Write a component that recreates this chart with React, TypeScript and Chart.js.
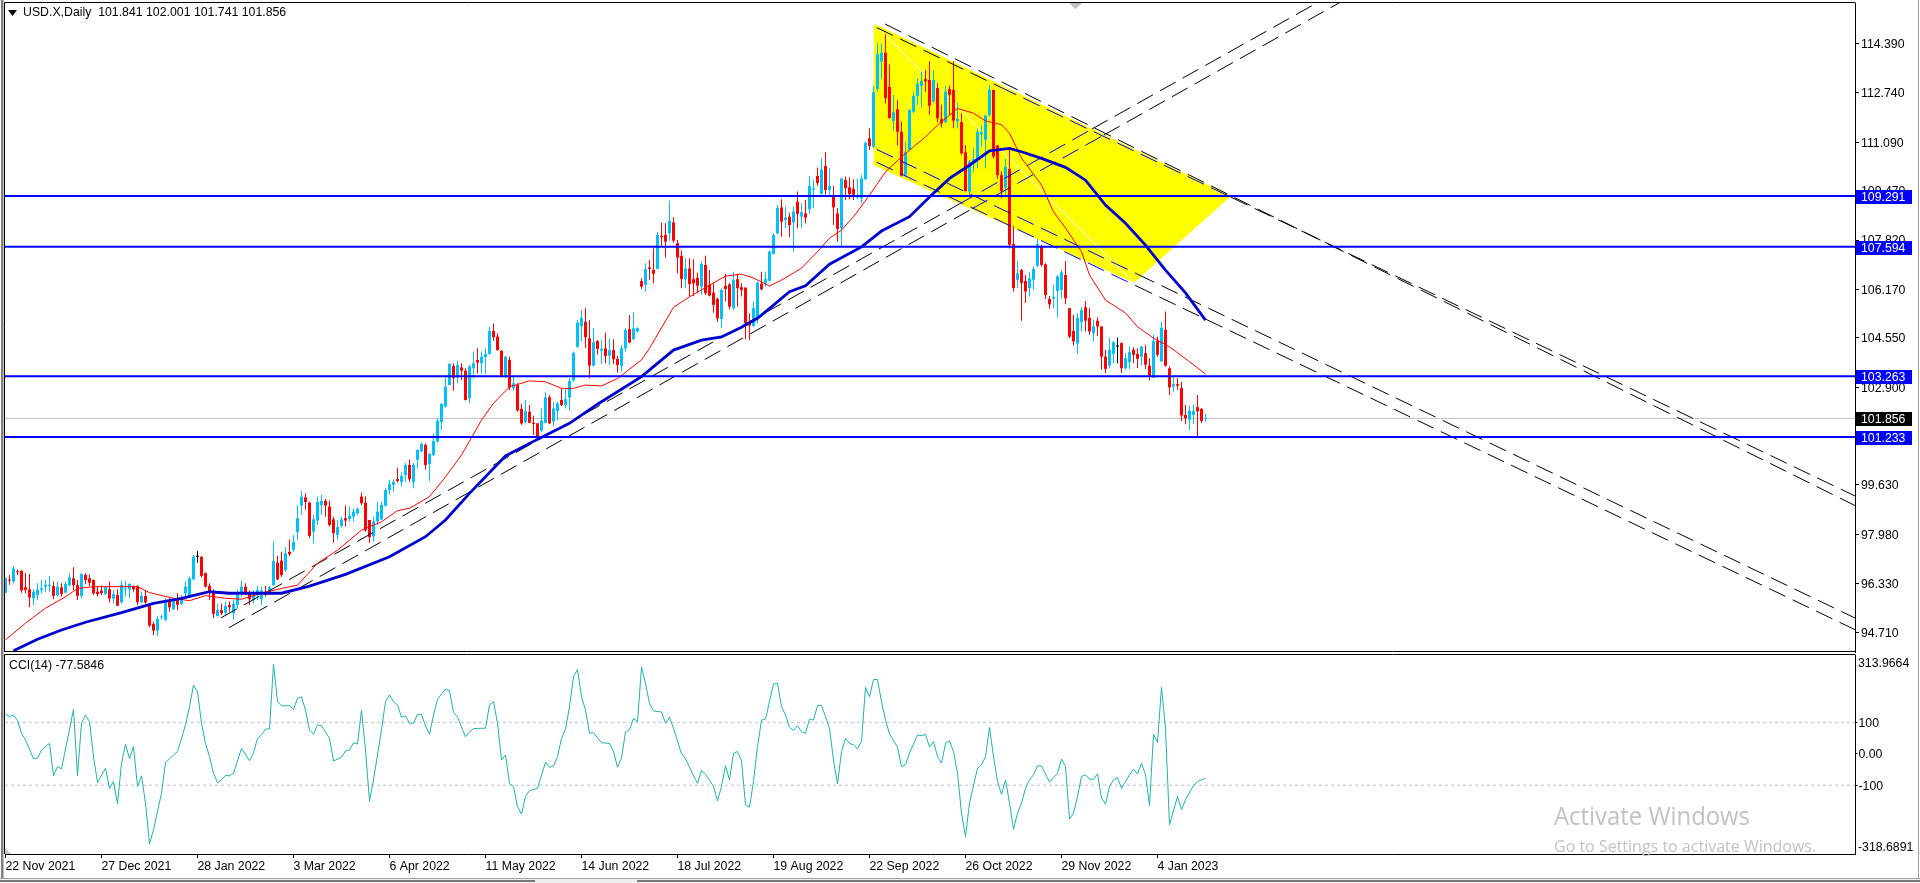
import React, { useEffect, useRef } from "react";
import { Chart, registerables } from "chart.js";

Chart.register(...registerables);

const FONT = '"Liberation Sans", Arial, sans-serif';

const opens = [
96.03,96.45,96.40,96.73,96.76,96.21,96.14,95.84,95.95,96.12,
96.23,96.25,96.25,95.94,96.21,96.03,96.28,96.51,96.28,95.92,
96.62,96.51,96.45,96.06,96.10,95.98,96.14,95.83,95.95,95.71,
96.14,96.14,96.25,96.25,95.71,95.92,95.59,94.98,94.76,95.20,
95.12,95.73,95.47,95.82,95.65,96.00,95.90,96.47,97.23,97.23,
96.68,96.26,96.06,95.25,95.45,95.36,95.62,95.34,95.62,96.03,
96.23,96.01,95.78,95.95,95.81,96.06,95.98,96.28,97.03,97.10,
96.79,97.39,97.46,98.05,98.94,99.22,99.04,98.07,98.44,98.96,
99.10,98.91,98.48,97.96,98.26,98.52,98.49,98.57,98.68,99.24,
99.04,98.46,97.91,98.41,98.48,98.93,99.46,99.63,99.83,99.73,
99.96,100.30,99.72,100.47,100.75,100.97,100.33,100.63,101.08,101.73,
102.25,102.97,103.61,103.22,103.56,103.45,102.53,103.53,103.81,103.70,
103.90,104.01,104.78,104.59,104.11,103.23,103.81,102.86,102.97,102.17,
101.73,102.08,101.71,101.69,101.44,101.71,102.56,101.75,102.10,102.47,
102.30,102.55,103.12,104.25,104.94,105.09,104.53,103.62,104.44,104.12,
104.20,103.95,104.14,103.84,103.61,104.20,104.84,104.51,104.76,106.45,
106.32,106.90,106.82,106.85,107.96,107.99,108.04,108.41,107.71,107.29,
106.50,106.87,106.51,106.56,106.26,106.99,106.32,106.06,105.85,105.18,
106.28,106.34,105.54,106.51,106.24,106.23,105.09,104.95,105.20,106.36,
106.37,106.46,107.35,108.04,108.91,108.49,108.60,108.40,109.10,108.60,
108.71,108.85,109.50,109.96,109.36,110.29,109.49,109.29,108.71,108.21,
109.83,109.58,109.53,109.24,109.21,109.85,111.22,110.94,112.87,113.78,
114.08,112.94,111.80,112.19,111.44,109.99,110.83,112.11,112.64,112.98,
113.20,113.17,112.45,112.90,111.87,111.76,112.87,112.84,111.78,111.76,
110.75,109.44,110.39,110.55,111.36,111.17,112.00,112.84,110.98,109.99,
109.57,110.20,107.68,106.49,106.82,106.45,106.21,106.49,106.96,107.60,
107.01,105.85,105.86,106.12,106.15,106.65,105.54,104.78,104.36,105.07,
105.57,105.21,104.70,105.12,104.93,103.92,103.62,104.01,104.26,104.37,
103.53,103.73,104.15,104.01,103.92,104.04,103.62,103.22,104.45,103.76,
104.82,103.53,102.92,103.00,102.87,101.97,101.81,101.97,102.23,102.17,101.841];

const closes = [
96.51,96.43,96.84,96.71,96.10,96.12,95.87,96.06,96.12,96.17,
96.29,96.29,95.92,96.23,95.98,96.32,96.54,96.28,95.92,96.65,
96.45,96.36,96.01,95.98,96.01,96.21,95.83,95.98,95.59,96.29,
96.17,96.32,96.14,95.71,95.93,95.70,94.93,94.76,95.15,95.22,
95.78,95.54,95.78,95.62,95.82,96.23,96.51,97.23,97.23,96.59,
96.23,96.06,95.32,95.45,95.34,95.58,95.54,95.65,95.95,96.23,
96.03,95.81,95.95,96.12,96.10,95.95,96.21,97.09,96.47,96.62,
97.35,97.31,97.72,98.52,99.24,99.06,97.93,98.48,99.06,99.10,
98.94,98.29,98.02,98.22,98.48,98.44,98.60,98.74,98.83,99.02,
98.11,97.88,98.41,98.74,98.96,99.46,99.66,99.74,99.76,99.93,
100.30,99.82,100.30,100.80,101.00,100.30,100.67,101.10,101.78,102.34,
102.92,103.68,103.20,103.64,103.45,102.47,103.59,103.70,103.72,103.92,
104.01,104.78,104.57,104.14,103.27,103.92,102.89,103.03,102.12,101.69,
102.10,101.71,101.67,101.25,101.78,102.56,101.69,102.19,102.36,102.30,
102.50,103.11,104.05,105.06,105.22,104.57,103.62,104.40,104.18,104.18,
103.94,104.14,103.83,103.64,104.20,104.81,104.39,104.87,104.87,106.26,
106.85,106.85,106.69,107.99,107.91,107.77,108.46,107.80,107.23,106.52,
106.87,106.35,106.37,106.29,107.02,106.04,105.96,105.65,105.20,106.15,
106.18,105.59,106.48,106.21,106.15,105.04,104.96,105.54,106.40,106.17,
106.52,107.43,107.99,108.90,108.43,108.57,108.32,108.77,108.69,108.75,
108.57,109.63,109.55,109.72,110.18,109.49,109.63,108.91,108.19,109.88,
109.55,109.36,109.33,109.29,109.88,111.07,110.96,112.76,114.03,114.08,
112.56,111.89,112.09,111.44,109.97,110.77,112.17,112.64,113.04,113.14,
113.12,112.31,113.17,111.89,111.72,112.78,112.67,111.81,111.87,110.72,
109.46,110.44,110.53,111.44,111.42,111.98,112.84,110.61,109.99,109.46,
110.27,107.66,106.21,106.71,106.38,106.10,106.54,106.85,107.68,106.99,
105.98,105.67,105.92,106.60,106.74,105.87,104.59,104.43,105.21,105.48,
105.12,104.76,104.93,104.93,103.92,103.51,104.15,104.40,104.26,103.53,
103.87,104.07,103.98,103.85,104.26,103.65,103.26,104.45,103.98,104.89,
103.62,102.89,103.00,102.95,101.95,101.86,102.11,102.11,102.09,101.77,101.856];

const highs = [
96.54,96.62,96.93,96.81,96.79,96.68,96.65,96.14,96.34,96.45,
96.45,96.59,96.40,96.40,96.34,96.40,96.68,96.88,96.45,96.68,
96.68,96.64,96.47,96.23,96.28,96.25,96.40,96.12,96.14,96.43,
96.43,96.34,96.28,96.28,96.06,96.12,95.62,95.06,95.26,95.28,
95.84,95.84,95.84,96.01,95.95,96.40,96.56,97.29,97.42,97.25,
96.70,96.34,96.14,95.67,95.67,95.73,95.73,95.78,96.12,96.43,
96.34,96.10,96.12,96.25,96.23,96.25,96.25,97.74,97.26,97.40,
97.55,97.81,97.96,98.94,99.43,99.35,99.07,98.63,99.24,99.30,
99.16,99.10,98.57,98.46,98.57,98.94,98.91,98.85,98.88,99.37,
99.24,98.46,98.57,99.07,99.07,99.52,99.80,99.82,100.21,100.05,
100.36,100.47,100.36,100.82,101.05,101.02,100.69,101.34,101.85,102.36,
103.25,103.70,103.70,103.79,103.70,103.53,103.64,104.09,104.20,104.09,
104.20,104.92,105.03,104.70,104.14,103.94,103.92,103.27,103.03,102.34,
102.47,102.30,101.94,101.69,102.19,102.73,102.64,102.41,102.41,102.86,
102.86,103.20,104.09,105.15,105.48,105.54,105.15,104.87,104.48,104.48,
104.72,104.53,104.50,103.94,104.31,104.87,105.31,105.40,104.90,106.54,
107.04,107.15,107.54,108.10,108.40,108.38,109.13,108.58,107.82,107.47,
107.21,107.21,107.18,106.73,107.10,107.29,106.82,106.37,105.89,106.21,
106.69,106.37,106.76,106.69,106.37,106.23,105.37,105.76,106.43,106.76,
106.76,107.47,108.04,108.99,109.18,108.94,108.73,108.94,109.44,109.05,
109.16,109.96,109.83,110.24,110.55,110.75,110.22,109.63,108.88,109.88,
109.94,109.92,109.85,109.88,109.99,111.11,111.55,112.98,114.40,114.40,
114.70,113.69,112.67,112.50,111.78,111.11,112.19,112.76,113.23,113.45,
113.50,113.80,113.50,113.06,112.34,112.98,112.98,113.80,112.42,112.06,
111.00,110.50,110.89,111.53,111.64,112.00,113.00,112.84,111.00,110.11,
110.53,110.89,108.30,107.12,106.85,106.65,106.74,106.93,107.86,107.66,
107.04,105.95,106.32,106.65,106.82,107.12,105.54,105.32,105.37,105.59,
105.78,105.54,105.15,105.23,104.93,104.15,104.56,104.45,104.56,104.40,
104.04,104.26,104.23,104.20,104.28,104.32,103.87,104.65,104.59,105.09,
105.43,103.59,103.26,103.20,103.07,102.30,102.29,102.31,102.64,102.20,102.001];

const lows = [
96.01,96.29,96.34,96.62,96.03,96.01,95.54,95.62,95.78,96.01,
96.06,96.06,95.81,95.90,95.90,96.01,96.23,96.12,95.78,95.84,
96.31,96.25,95.95,95.90,95.95,95.95,95.70,95.67,95.58,95.67,
95.90,95.84,96.06,95.62,95.67,95.67,94.87,94.61,94.58,95.12,
95.09,95.39,95.45,95.45,95.62,95.90,95.85,96.45,97.03,96.54,
96.20,95.78,95.17,95.23,95.28,95.28,95.39,95.12,95.50,95.90,
95.95,95.62,95.67,95.78,95.62,95.90,95.95,96.26,96.45,96.56,
96.72,97.25,97.40,97.79,98.63,98.80,97.85,97.68,98.29,98.63,
98.57,98.24,97.70,97.81,98.21,98.24,98.41,98.41,98.63,98.96,
98.07,97.70,97.74,98.29,98.46,98.91,99.30,99.41,99.71,99.58,
99.74,99.74,99.52,100.19,100.73,100.15,99.76,100.60,101.05,101.47,
102.22,102.96,102.78,103.03,103.14,102.45,102.36,103.20,103.36,103.36,
103.34,103.98,104.45,104.12,103.22,103.20,102.80,102.78,102.08,101.64,
101.69,101.69,101.30,101.22,101.41,101.69,101.67,101.60,101.80,102.27,
102.19,102.11,103.08,104.22,104.42,104.20,103.20,103.59,103.98,103.67,
103.70,103.64,103.67,103.39,103.42,104.09,104.37,104.48,104.73,106.18,
106.10,106.49,106.37,106.84,107.62,107.23,107.80,107.73,106.71,106.21,
106.21,105.93,105.95,106.04,105.99,105.98,105.93,105.39,105.09,104.89,
105.76,105.50,105.48,105.59,105.93,104.50,104.48,104.90,105.04,106.14,
106.26,106.45,107.34,108.01,107.93,108.21,107.91,107.43,108.21,108.21,
108.38,108.69,108.88,109.63,109.34,109.33,109.27,108.32,107.77,107.62,
109.16,109.18,109.16,109.18,109.05,109.83,110.83,110.89,112.78,113.20,
112.38,111.89,111.47,110.98,109.94,109.94,110.80,112.06,112.34,112.25,
112.78,112.00,112.42,111.76,111.58,111.72,112.00,111.56,111.56,110.66,
109.44,109.30,110.11,110.22,110.94,110.22,111.94,110.55,109.86,109.22,
109.33,107.54,106.10,106.21,105.12,105.71,105.93,106.15,106.91,106.93,
105.85,105.52,105.54,105.23,105.87,105.67,104.54,104.29,104.00,104.76,
104.76,104.65,104.43,104.62,103.48,103.37,103.53,103.70,103.70,103.37,
103.48,103.51,103.70,103.54,103.62,103.51,103.12,103.20,103.92,103.74,
103.59,102.64,102.75,102.81,101.77,101.66,101.47,101.66,101.25,101.70,101.741];

const slowMaBars = [2,8,14,20,29,37,44,51,56,69,76,85,96,105,110,116,125,131,141,148,159,167,174,179,184,188,192,196,200,206,214,219,226,231,236,241,246,251,254,259,265,270,273,275,280,285,290,295,300];
const slowMaValues = [94.09,94.47,94.78,95.04,95.36,95.67,95.84,96.06,96.01,96.01,96.25,96.64,97.23,97.90,98.46,99.35,100.60,101.02,101.69,102.33,103.25,104.14,104.47,104.58,104.90,105.20,105.64,106.09,106.29,107.01,107.59,108.12,108.60,109.26,109.88,110.32,110.80,110.88,110.77,110.55,110.25,109.82,109.32,108.99,108.38,107.65,106.81,106.05,105.14];

const fastMaBars = [0,5,10,15,18,22,26,33,36,42,46,50,55,59,64,69,73,78,83,89,94,98,101,106,110,114,119,122,126,131,135,139,142,145,149,153,159,161,167,171,176,180,184,187,191,194,199,203,206,209,212,216,220,224,230,233,238,242,245,249,251,254,259,262,265,269,271,275,280,283,287,291,296,300];
const fastMaValues = [94.45,95.01,95.51,95.89,96.17,96.23,96.23,96.23,96.03,95.84,95.76,95.93,95.84,95.81,96.01,96.17,96.28,97.01,97.45,98.12,98.40,98.77,98.85,99.24,99.90,100.63,101.80,102.36,102.91,103.11,103.08,102.86,102.86,102.97,102.94,103.19,103.81,104.20,105.57,105.92,106.31,106.61,106.68,106.55,106.28,106.48,106.88,107.43,107.88,108.15,108.60,109.32,110.10,110.60,111.27,111.66,112.22,112.06,111.80,111.68,111.39,110.56,109.66,108.76,108.22,107.43,106.65,105.81,105.38,104.92,104.54,104.25,103.75,103.34];

const cciBars = [0,1,2,3,4,5,7,8,9,11,12,13,14,17,18,19,20,21,22,23,25,26,27,28,29,30,31,32,33,34,35,36,37,39,40,42,43,44,45,46,47,48,49,50,51,52,53,54,55,56,57,59,61,62,63,64,65,66,67,68,69,71,72,73,74,75,76,77,78,79,81,82,84,85,86,87,88,89,90,91,92,94,95,96,97,98,99,100,101,102,103,104,105,106,107,108,109,110,111,112,113,115,116,117,119,120,121,122,123,124,125,126,127,128,129,130,131,133,135,136,137,138,139,140,141,142,143,144,145,146,147,149,151,152,153,154,155,156,157,158,
159,160,161,162,164,165,166,167,169,170,172,173,174,175,177,178,179,180,181,182,183,184,185,186,187,188,189,190,192,193,194,195,196,197,198,199,200,201,202,203,204,205,206,207,208,209,210,211,212,213,214,215,216,217,218,219,220,221,223,224,225,226,228,229,230,231,232,233,234,235,236,237,238,239,240,241,243,244,245,246,247,248,249,250,251,252,253,254,255,256,257,258,259,261,263,264,265,266,267,268,269,270,271,272,273,274,275,276,277,278,279,281,282,283,284,285,286,287,288,289,290,291,293,294,295,297,298,300];
const cciValues = [126,118,123,107,65,44,-16,-14,12,33,-70,-41,-48,141,-70,97,123,102,-9,-92,-46,-110,-88,-159,-30,30,-16,23,-104,-70,-157,-286,-242,-125,-28,-4,7,49,92,150,218,197,97,33,-9,-62,-92,-83,-69,-70,-62,17,-22,2,49,60,78,79,284,166,152,153,141,176,181,139,76,62,92,89,49,-23,-11,9,12,35,31,139,12,-151,-83,76,166,187,166,155,116,120,97,97,125,124,88,62,123,173,190,205,200,132,116,54,70,80,81,81,155,166,97,-20,-4,-94,-104,-168,-192,-136,-117,-110,-27,-43,-39,-9,49,78,150,245,268,181,139,65,67,35,33,7,-43,-14,70,76,112,102,
275,224,160,136,133,97,116,81,0,-16,-70,-94,-53,-65,-104,-150,-104,-38,-83,2,7,-22,-162,-170,-88,23,107,110,222,224,150,123,84,74,89,70,65,110,107,153,154,118,81,-20,-96,7,49,33,28,16,39,211,181,236,236,166,107,63,21,-41,-35,2,60,57,62,21,39,-9,-30,33,41,7,-62,-189,-263,-157,-46,-35,-9,84,-9,-88,-129,-83,-157,-240,-189,-157,-110,-83,-67,-38,-39,-90,-62,-17,-41,-208,-189,-136,-72,-67,-81,-81,-64,-141,-160,-104,-83,-76,-110,-67,-49,-64,-30,-67,-165,62,36,211,81,-226,-136,-178,-146,-101,-88,-78];

const dateTickBars = [0,24,48,72,96,120,144,168,192,216,240,264,288];
const dateTickLabels = ["22 Nov 2021","27 Dec 2021","28 Jan 2022","3 Mar 2022","6 Apr 2022","11 May 2022","14 Jun 2022","18 Jul 2022","19 Aug 2022","22 Sep 2022","26 Oct 2022","29 Nov 2022","4 Jan 2023"];
const priceTicks = [114.39,112.74,111.09,109.47,107.82,106.17,104.55,102.9,101.28,99.63,97.98,96.33,94.71];
const cciTicks = [100,0,-100];
const levelPrices = [109.291,107.594,103.263,101.233];
const lastPrice = 101.856;

const channelTopBars = [217,306.4];
const channelTopValues = [115.065,109.29];
const channelBottomBars = [217,282.1,306.4];
const channelBottomValues = [110.33,106.39,109.29];

const trendA = { bars:[219.9,462.4], values:[115.04,98.94], tinted:-1 };
const trendB = { bars:[217.8,248.6,306.4,462.4], values:[114.92,112.94,109.25,99.26], tinted:1 };
const trendC = { bars:[217.8,283.1,462.4], values:[110.85,106.67,95.18], tinted:0 };
const trendD = { bars:[217.8,282.6,462.4], values:[110.42,106.29,94.79], tinted:0 };
const trendE = { bars:[53.9,238.4,271.6,329.9], values:[95.19,109.02,111.53,115.90], tinted:1 };
const trendF = { bars:[55.9,241.6,274.6,334.9], values:[94.86,108.86,111.33,115.86], tinted:1 };
const trends = [trendA,trendB,trendC,trendD,trendE,trendF];

const X_MIN = -0.125;
const X_MAX = 462.375;
const zip = (xs:number[], ys:number[]) => xs.map((x,i)=>({x,y:ys[i]}));
const candleColor = (i:number) => opens[i]===closes[i] ? "#000000" : closes[i]>opens[i] ? "#00bfff" : "#ff0000";

const labelFont = `12.3px ${FONT}`;
const noPad = (s:any)=>{s.paddingTop=0;s.paddingBottom=0;s.paddingLeft=0;s.paddingRight=0;};

const mainDecor = {
  id:"mainDecor",
  afterDraw(chart:any){
    const {ctx,scales} = chart;
    const y = scales.y;
    ctx.save();
    ctx.fillStyle="#808080"; ctx.fillRect(1,0,2.5,653);
    ctx.fillStyle="#a0a0a0"; ctx.fillRect(1918,0,1,653);
    ctx.strokeStyle="#000"; ctx.lineWidth=1;
    ctx.beginPath();
    ctx.moveTo(4.5,2.5); ctx.lineTo(1855.5,2.5);
    ctx.moveTo(4.5,2.5); ctx.lineTo(4.5,652);
    ctx.moveTo(4.5,651.5); ctx.lineTo(1855.5,651.5);
    ctx.stroke();
    ctx.fillStyle="#c0c0c0";
    ctx.beginPath(); ctx.moveTo(1069,3); ctx.lineTo(1082,3); ctx.lineTo(1075.5,9); ctx.closePath(); ctx.fill();
    ctx.fillStyle="#000";
    ctx.beginPath(); ctx.moveTo(8,10); ctx.lineTo(17,10); ctx.lineTo(12.5,16); ctx.closePath(); ctx.fill();
    ctx.font=labelFont; ctx.textBaseline="middle"; ctx.textAlign="left";
    ctx.fillText("USD.X,Daily  101.841 102.001 101.741 101.856",23,13,266);
    const tag=(v:number,bg:string)=>{
      const py=y.getPixelForValue(v);
      ctx.fillStyle=bg; ctx.fillRect(1856,Math.round(py)-6,56,14);
      ctx.fillStyle="#fff"; ctx.fillText(v.toFixed(3),1861,Math.round(py)+1.5);
    };
    levelPrices.forEach(v=>tag(v,"#0000ff"));
    tag(lastPrice,"#000000");
    ctx.restore();
  }
};

const cciDecor = {
  id:"cciDecor",
  afterDraw(chart:any){
    const {ctx,scales} = chart;
    const y = scales.y;
    ctx.save();
    ctx.fillStyle="#808080"; ctx.fillRect(1,0,2.5,225);
    ctx.fillStyle="#a0a0a0"; ctx.fillRect(1918,0,1,225);
    ctx.strokeStyle="#000"; ctx.lineWidth=1;
    ctx.beginPath();
    ctx.moveTo(4.5,1.5); ctx.lineTo(1855.5,1.5);
    ctx.moveTo(4.5,1.5); ctx.lineTo(4.5,201);
    ctx.stroke();
    ctx.fillStyle="#c8c8c8";
    ctx.beginPath(); ctx.moveTo(5,195); ctx.lineTo(5,201); ctx.lineTo(11,201); ctx.closePath(); ctx.fill();
    ctx.fillStyle="#000"; ctx.font=labelFont; ctx.textBaseline="middle"; ctx.textAlign="left";
    ctx.fillText("CCI(14) -77.5846",9,13,97);
    ctx.fillText(y.max.toFixed(4),1858,y.getPixelForValue(y.max)+9);
    ctx.fillText(y.min.toFixed(4),1858,y.getPixelForValue(y.min)-6);
    ctx.fillStyle="#c2c2c2"; ctx.font=`25px "Open Sans", ${FONT}`;
    ctx.fillText("Activate Windows",1554,164.5,196);
    ctx.font=`16px "Open Sans", ${FONT}`;
    ctx.fillText("Go to Settings to activate Windows.",1554,194,283);
    ctx.fillStyle="#f0f0f0"; ctx.fillRect(0,225,1920,5);
    ctx.fillStyle="#a0a0a0"; ctx.fillRect(0,225,1920,1);
    ctx.fillStyle="#000"; ctx.fillRect(0,227.5,535,1); ctx.fillRect(637,227.5,1283,1);
    ctx.restore();
  }
};

export default function App(){
  const mainRef = useRef<HTMLCanvasElement>(null);
  const cciRef = useRef<HTMLCanvasElement>(null);
  useEffect(()=>{
    document.body.style.margin="0";
    document.body.style.background="#fff";
    const wicks = opens.map((_,i)=>({x:i,y:[lows[i],highs[i]]}));
    const bodies = opens.map((_,i)=>({x:i,y:[Math.min(opens[i],closes[i]),Math.max(opens[i],closes[i])]}));
    const colors = opens.map((_,i)=>candleColor(i));
    const edge = (name:string,xs:number[],ys:number[],fill:any)=>({
      type:"line",label:name,data:zip(xs,ys),borderWidth:0,borderColor:"#ffff00",backgroundColor:"#ffff00",
      pointRadius:0,tension:0,fill,order:20,
    });
    const main = new Chart(mainRef.current!,{
      type:"bar",
      data:{datasets:[
        edge("channel top",channelTopBars,channelTopValues,"+1"),
        edge("channel bottom",channelBottomBars,channelBottomValues,false),
        {type:"line",label:"channel diagonal",data:[{x:channelTopBars[0],y:channelTopValues[0]},{x:channelBottomBars[1],y:channelBottomValues[1]}],borderColor:"#ffffff",borderWidth:1,pointRadius:0,order:19},
        {type:"bar",label:"wicks",data:wicks,backgroundColor:colors,barThickness:1,grouped:false,minBarLength:1,inflateAmount:0,order:8},
        {type:"bar",label:"bodies",data:bodies,backgroundColor:colors,barThickness:3,grouped:false,minBarLength:1,inflateAmount:0,order:7},
        {type:"line",label:"last",data:[{x:X_MIN,y:lastPrice},{x:X_MAX,y:lastPrice}],borderColor:"#c0c0c0",borderWidth:1,pointRadius:0,order:9},
        ...trends.map((t,k)=>({type:"line",label:`trend ${k}`,data:zip(t.bars,t.values),borderColor:"#000000",borderWidth:1,borderDash:[18,8],pointRadius:0,tension:0,order:6,
          segment:{borderColor:(c:any)=>c.p0DataIndex===t.tinted?"#0000ff":"#000000"}})),
        {type:"line",label:"fast MA",data:zip(fastMaBars,fastMaValues),borderColor:"#ff0000",borderWidth:1,pointRadius:0,tension:0,order:5},
        {type:"line",label:"slow MA",data:zip(slowMaBars,slowMaValues),borderColor:"#0000cd",borderWidth:2.8,pointRadius:0,tension:0,order:4},
        ...levelPrices.map(v=>({type:"line",label:`level ${v}`,data:[{x:X_MIN,y:v},{x:X_MAX,y:v}],borderColor:"#0000ff",borderWidth:2,pointRadius:0,order:1})),
      ] as any},
      options:{
        responsive:false,animation:false,devicePixelRatio:1,
        layout:{padding:{left:5,top:3,right:0,bottom:1}},
        plugins:{legend:{display:false},tooltip:{enabled:false},filler:{drawTime:"beforeDatasetsDraw"}} as any,
        scales:{
          x:{type:"linear",display:false,offset:false,min:X_MIN,max:X_MAX,grid:{display:false}},
          y:{type:"linear",position:"right",min:94.045,max:115.744,
            afterFit:(s:any)=>{s.width=65;noPad(s);},
            afterBuildTicks:(s:any)=>{s.ticks=priceTicks.map(value=>({value}));},
            border:{display:true,color:"#000"},
            grid:{drawOnChartArea:false,drawTicks:true,tickLength:4,tickColor:"#000"},
            ticks:{font:{family:FONT,size:12.3},color:"#000",padding:2,labelOffset:1,autoSkip:false,callback:(v:any)=>Number(v).toFixed(3)},
          },
        },
      },
      plugins:[mainDecor],
    } as any);
    const cci = new Chart(cciRef.current!,{
      type:"line",
      data:{datasets:[
        {label:"+100",data:[{x:X_MIN,y:100},{x:X_MAX,y:100}],borderColor:"#c0c0c0",borderWidth:1,borderDash:[3,3],pointRadius:0,order:2},
        {label:"-100",data:[{x:X_MIN,y:-100},{x:X_MAX,y:-100}],borderColor:"#c0c0c0",borderWidth:1,borderDash:[3,3],pointRadius:0,order:2},
        {label:"CCI(14)",data:zip(cciBars,cciValues),borderColor:"#20b2aa",borderWidth:1,pointRadius:0,tension:0,order:1},
      ]},
      options:{
        responsive:false,animation:false,devicePixelRatio:1,
        layout:{padding:{left:5,top:2,right:0,bottom:0}},
        plugins:{legend:{display:false},tooltip:{enabled:false}},
        scales:{
          x:{type:"linear",min:X_MIN,max:X_MAX,
            afterFit:(s:any)=>{s.height=29;noPad(s);},
            afterBuildTicks:(s:any)=>{s.ticks=dateTickBars.map(value=>({value}));},
            border:{display:true,color:"#000"},
            grid:{drawOnChartArea:false,drawTicks:true,tickLength:4,tickColor:"#000"},
            ticks:{align:"start",maxRotation:0,autoSkip:false,font:{family:FONT,size:12.3},color:"#000",padding:1,
              callback:(v:any)=>dateTickLabels[dateTickBars.indexOf(Number(v))]},
          },
          y:{type:"linear",position:"right",min:-318.6891,max:313.9664,
            afterFit:(s:any)=>{s.width=65;noPad(s);},
            afterBuildTicks:(s:any)=>{s.ticks=cciTicks.map(value=>({value}));},
            border:{display:true,color:"#000"},
            grid:{drawOnChartArea:false,drawTicks:true,tickLength:2.5,tickColor:"#000"},
            ticks:{font:{family:FONT,size:12.3},color:"#000",padding:1,labelOffset:1,autoSkip:false,
              callback:(v:any)=>Number(v)===0?"0.00":String(v)},
          },
        },
      },
      plugins:[cciDecor],
    } as any);
    return ()=>{main.destroy();cci.destroy();};
  },[]);
  return (
    <div style={{position:"relative",width:1920,height:883,overflow:"hidden",background:"#fff"}}>
      <canvas ref={mainRef} width={1920} height={653} style={{position:"absolute",left:0,top:0,width:1920,height:653}}/>
      <canvas ref={cciRef} width={1920} height={230} style={{position:"absolute",left:0,top:653,width:1920,height:230}}/>
    </div>
  );
}
